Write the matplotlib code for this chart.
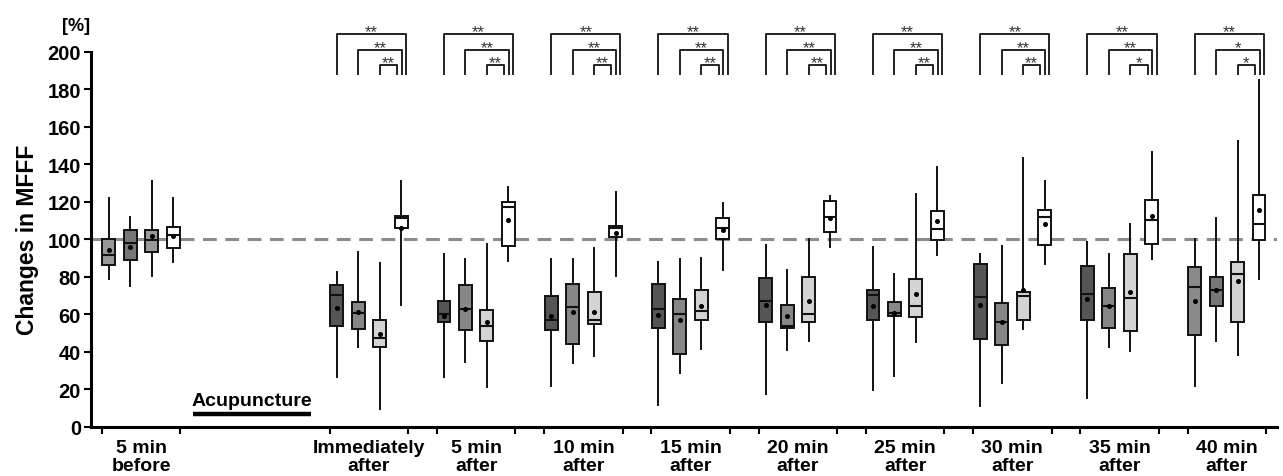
import matplotlib
matplotlib.use("Agg")
import matplotlib.pyplot as plt

plt.rcParams["font.family"] = ["Liberation Sans", "DejaVu Sans"]

# group labels along the x axis
groups = ["5 min\nbefore", "Immediately\nafter", "5 min\nafter", "10 min\nafter",
          "15 min\nafter", "20 min\nafter", "25 min\nafter", "30 min\nafter",
          "35 min\nafter", "40 min\nafter"]

# box statistics, one row per group, four boxes per row
whis_hi = [[122, 111.7, 131, 122], [82.7, 93, 87.1, 131], [92.1, 89.4, 97.4, 128],
           [89.4, 89.4, 95.1, 125.3], [88, 89.4, 89.8, 119.3], [96.9, 83.7, 100.1, 123.2],
           [95.7, 81.4, 124.1, 138.7], [92.1, 96.5, 143.1, 131.2], [98.7, 92.1, 108.1, 146.3],
           [100.1, 111.1, 152.5, 184.9]]
q3 = [[100, 105, 105, 106.3], [75.7, 66.3, 57, 112.5], [67, 75.6, 62.4, 120],
      [69.5, 76.1, 71.7, 107.2], [76.1, 68.1, 73.1, 111.1], [79.1, 65.1, 80, 120.5],
      [72.9, 66.7, 78.8, 114.9], [86.8, 66, 71.7, 115.6], [85.5, 73.8, 92.1, 120.9],
      [85.3, 80, 88, 123.7]]
med = [[91.6, 97.8, 99.7, 102.4], [70.2, 60.6, 47.5, 111.1], [60.1, 62.8, 53.5, 117],
       [57, 64, 57, 105.8], [62.8, 60.1, 61.5, 105.8], [67.2, 53.9, 60.1, 111.7],
       [70.2, 60.5, 64.2, 105.4], [69, 55.7, 69.9, 111.7], [70.8, 64.2, 68.5, 110.4],
       [74.3, 72.9, 81.4, 108.1]]
q1 = [[86, 89, 93, 95.5], [53.5, 52.1, 42.3, 106.1], [55.7, 51.4, 45.9, 96.5],
      [51.6, 43.9, 54.6, 101], [52.5, 38.8, 56.9, 100.1], [56, 52.5, 55.7, 104],
      [56.9, 58.9, 58.7, 99.8], [46.8, 43.7, 57, 96.9], [57, 52.6, 51.2, 97.4],
      [48.9, 64.5, 56, 99.8]]
whis_lo = [[79, 75, 80.5, 87.6], [26.3, 42.7, 9.4, 64.9], [26.3, 34.7, 21.3, 88.5],
           [21.9, 33.8, 37.9, 80.2], [11.6, 28.5, 41.4, 83.7], [17.4, 40.9, 45.9, 95.7],
           [19.7, 27.2, 45, 91.7], [11.2, 23.1, 52.1, 86.8], [15.3, 42.3, 40.2, 89.4],
           [21.9, 45.9, 38.2, 78.7]]
means = [[94, 96, 101.5, 101.9], [63.5, 61, 49.6, 106], [59.2, 62.8, 55.7, 110.2],
         [59.2, 61.3, 61.3, 103.3], [59.6, 56.9, 64.2, 104.9], [64.9, 59.2, 67.2, 111.4],
         [64.5, 60.6, 70.8, 109.5], [64.9, 56, 72.9, 108.1], [68.1, 64.5, 72, 112.2],
         [67.2, 73, 77.9, 115.7]]

# significance marks (outer, middle, inner bracket) per group
signif = [None, ["**", "**", "**"], ["**", "**", "**"], ["**", "**", "**"],
          ["**", "**", "**"], ["**", "**", "**"], ["**", "**", "**"],
          ["**", "**", "**"], ["**", "**", "*"], ["**", "*", "*"]]

# box fill colours (first and last groups were printed a bit differently)
series_colors = ["#555555", "#878787", "#d3d3d3", "#ffffff"]
first_colors = ["#999999", "#777777", "#9a9a9a", "#ffffff"]
last_colors = ["#8a8a8a", "#777777", "#d3d3d3", "#ffffff"]

centers = [0] + [2.125 + k for k in range(9)]
offsets = [-0.3, -0.1, 0.1, 0.3]

fig = plt.figure(figsize=(12.83, 4.77), dpi=100)
ax = fig.add_axes([0.0707, 0.1034, 0.925, 0.786])

ax.axhline(100, color="#8c8c8c", lw=2.2, linestyle=(0, (4.5, 2.8)), zorder=1)

for g, c in enumerate(centers):
    if g == 0:
        colors = first_colors
    elif g == len(centers) - 1:
        colors = last_colors
    else:
        colors = series_colors
    stats = []
    for s in range(4):
        stats.append({"med": med[g][s], "q1": q1[g][s], "q3": q3[g][s],
                      "whislo": whis_lo[g][s], "whishi": whis_hi[g][s],
                      "mean": means[g][s], "fliers": []})
    bp = ax.bxp(stats, positions=[c + o for o in offsets], widths=0.12,
                showmeans=True, showcaps=False, patch_artist=True,
                boxprops=dict(edgecolor="#111111", linewidth=1.4),
                whiskerprops=dict(color="#111111", linewidth=1.4),
                medianprops=dict(color="#111111", linewidth=1.5),
                meanprops=dict(marker="o", markersize=2.6, markerfacecolor="black",
                               markeredgecolor="black"),
                manage_ticks=False, zorder=3)
    for patch, col in zip(bp["boxes"], colors):
        patch.set_facecolor(col)

    # significance brackets above the plot area
    if signif[g] is not None:
        x4 = c + offsets[3]
        levels = [(c + offsets[0], x4 + 0.045, 209.4),
                  (c + offsets[1], x4 + 0.005, 201.0),
                  (c + offsets[2], x4 - 0.04, 193.0)]
        for (xl, xr, yb), mark in zip(levels, signif[g]):
            ax.plot([xl, xl, xr, xr], [188, yb, yb, 188], color="#222222",
                    lw=1.4, clip_on=False, zorder=4)
            ax.text((xl + xr) / 2, yb - 2.6, mark, ha="center", va="bottom",
                    fontsize=12, color="#333333", clip_on=False)

# acupuncture bar
ax.plot([0.485, 1.584], [6.8, 6.8], color="black", lw=3.2, solid_capstyle="butt")
ax.text(1.035, 9.5, "Acupuncture", ha="center", va="bottom", fontsize=14,
        fontweight="bold")

ax.set_xlim(-0.469, 10.597)
ax.set_ylim(0, 200)
ax.set_yticks(range(0, 201, 20))
ax.set_xticks(centers)
ax.set_xticklabels(groups, fontsize=14, fontweight="bold", linespacing=1.05)
ax.set_xticks([c + d for c in centers for d in (-0.365, 0.365)], minor=True)
ax.tick_params(axis="x", which="major", length=0, pad=9)
ax.tick_params(axis="x", which="minor", length=5, width=1.5, direction="out")
ax.tick_params(axis="y", length=5, width=1.5, direction="out", labelsize=14.5, pad=2)
for lab in ax.get_yticklabels():
    lab.set_fontweight("bold")

for side in ("top", "right"):
    ax.spines[side].set_visible(False)
for side in ("left", "bottom"):
    ax.spines[side].set_linewidth(2.2)

ax.set_ylabel("Changes in MFFF", fontsize=16.5, fontweight="bold", labelpad=6)
fig.text(0.059, 0.945, "[%]", ha="center", va="center", fontsize=13,
         fontweight="bold")

fig.savefig("out.png", dpi=100)
